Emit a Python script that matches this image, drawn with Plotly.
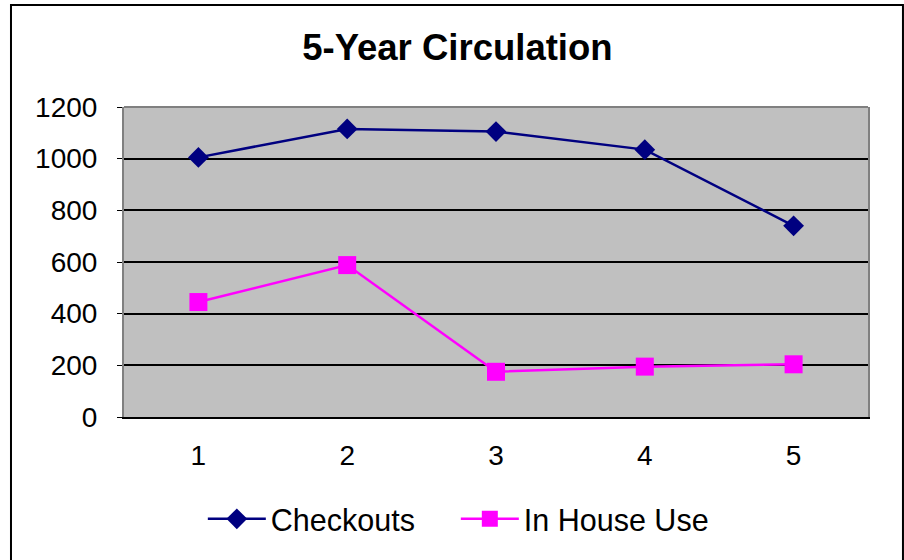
import plotly.graph_objects as go

years = ["1", "2", "3", "4", "5"]
checkouts = [1005, 1115, 1105, 1035, 740]
in_house = [445, 588, 175, 195, 204]
y_ticks = [0, 200, 400, 600, 800, 1000, 1200]

FONT = "Liberation Sans, Arial, sans-serif"

fig = go.Figure()
fig.add_trace(go.Scatter(
    x=years, y=checkouts, name="Checkouts", mode="lines+markers",
    line=dict(color="#000080", width=2.5),
    marker=dict(symbol="diamond", size=16, color="#000080"),
))
fig.add_trace(go.Scatter(
    x=years, y=in_house, name="In House Use", mode="lines+markers",
    line=dict(color="#FF00FF", width=2.5),
    marker=dict(symbol="square", size=18, color="#FF00FF"),
))

fig.update_layout(
    width=904, height=560,
    margin=dict(l=124, r=36, t=107, b=143),
    paper_bgcolor="white",
    plot_bgcolor="#C0C0C0",
    font=dict(family=FONT, color="black"),
    title=dict(text="<b>5-Year Circulation</b>", font=dict(size=36.5, family=FONT),
               x=0.506, xref="container", xanchor="center",
               y=0.915, yref="container", yanchor="middle"),
    showlegend=True,
    legend=dict(orientation="h", x=0.446, xanchor="center", y=-0.329, yanchor="middle",
                font=dict(size=30.5, family=FONT), bgcolor="rgba(0,0,0,0)",
                itemwidth=58, entrywidth=180, entrywidthmode="pixels"),
    xaxis=dict(type="category", range=[-0.5, 4.5], showgrid=False,
               showline=True, linecolor="black", linewidth=2,
               ticks="", tickfont=dict(size=28), ticklabelstandoff=12),
    yaxis=dict(range=[0, 1200], tickvals=y_ticks, showgrid=True, gridcolor="black", gridwidth=2,
               zeroline=False, showline=True, linecolor="#808080", linewidth=2, mirror=True,
               ticks="outside", ticklen=5, tickcolor="black", tickfont=dict(size=28),
               ticklabelstandoff=14),
    shapes=[
        dict(type="line", xref="paper", yref="paper", x0=0, x1=1, y0=1, y1=1,
             line=dict(color="#808080", width=2), layer="above"),
        dict(type="rect", xref="paper", yref="paper", x0=-0.1519, x1=1.047, y0=-0.6, y1=1.329,
             line=dict(color="black", width=2), layer="below"),
    ],
)

fig.write_html("out.html", config={"displayModeBar": False},
               post_script="document.body.style.margin='0';document.body.style.overflow='hidden';")
